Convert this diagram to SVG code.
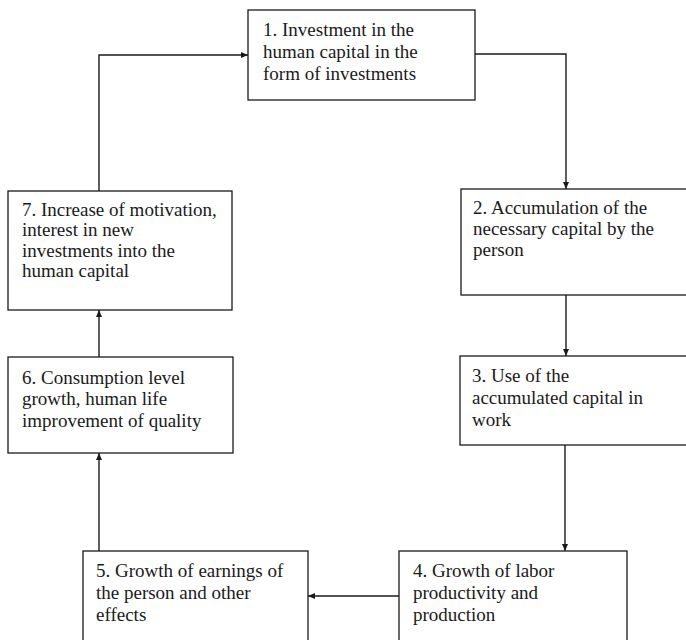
<svg xmlns="http://www.w3.org/2000/svg" width="686" height="640" viewBox="0 0 686 640">
<style>
.box{fill:#fff;stroke:#1a1a1a;stroke-width:1.3}
.lbl{font-family:"Liberation Serif","Times New Roman",serif;font-size:19px;fill:#1a1a1a}
.conn{fill:none;stroke:#1a1a1a;stroke-width:1.4}
</style>
<defs>
<marker id="arr" markerUnits="userSpaceOnUse" markerWidth="8" markerHeight="8" refX="7" refY="4" orient="auto">
<path d="M0,1 L7,4 L0,7 Z" fill="#1a1a1a"/>
</marker>
</defs>
<rect width="686" height="640" fill="#fff"/>
<g id="connectors">
<path class="conn" d="M99,191 V55 H248" marker-end="url(#arr)"/>
<path class="conn" d="M475,54 H566 V189" marker-end="url(#arr)"/>
<path class="conn" d="M566,295 V356" marker-end="url(#arr)"/>
<path class="conn" d="M565,445 V551" marker-end="url(#arr)"/>
<path class="conn" d="M399,596 H308" marker-end="url(#arr)"/>
<path class="conn" d="M99,551 V453" marker-end="url(#arr)"/>
<path class="conn" d="M99,357 V310" marker-end="url(#arr)"/>
</g>
<g id="node1">
<rect class="box" x="248" y="10" width="227" height="90"/>
<text class="lbl" x="263" y="36">1. Investment in the</text>
<text class="lbl" x="263" y="58">human capital in the</text>
<text class="lbl" x="263" y="80">form of investments</text>
</g>
<g id="node2">
<rect class="box" x="461" y="189" width="230" height="106"/>
<text class="lbl" x="473" y="214">2. Accumulation of the</text>
<text class="lbl" x="473" y="235">necessary capital by the</text>
<text class="lbl" x="473" y="256">person</text>
</g>
<g id="node3">
<rect class="box" x="460" y="356" width="231" height="89"/>
<text class="lbl" x="472" y="382">3. Use of the</text>
<text class="lbl" x="472" y="404">accumulated capital in</text>
<text class="lbl" x="472" y="426">work</text>
</g>
<g id="node4">
<rect class="box" x="399" y="551" width="228" height="95"/>
<text class="lbl" x="413" y="577">4. Growth of labor</text>
<text class="lbl" x="413" y="599">productivity and</text>
<text class="lbl" x="413" y="621">production</text>
</g>
<g id="node5">
<rect class="box" x="83" y="551" width="225" height="95"/>
<text class="lbl" x="96" y="577">5. Growth of earnings of</text>
<text class="lbl" x="96" y="599">the person and other</text>
<text class="lbl" x="96" y="621">effects</text>
</g>
<g id="node6">
<rect class="box" x="8" y="357" width="225" height="96"/>
<text class="lbl" x="22" y="384">6. Consumption level</text>
<text class="lbl" x="22" y="405">growth, human life</text>
<text class="lbl" x="22" y="427">improvement of quality</text>
</g>
<g id="node7">
<rect class="box" x="8" y="191" width="224" height="119"/>
<text class="lbl" x="22" y="216">7. Increase of motivation,</text>
<text class="lbl" x="22" y="236">interest in new</text>
<text class="lbl" x="22" y="257">investments into the</text>
<text class="lbl" x="22" y="277">human capital</text>
</g>
</svg>
